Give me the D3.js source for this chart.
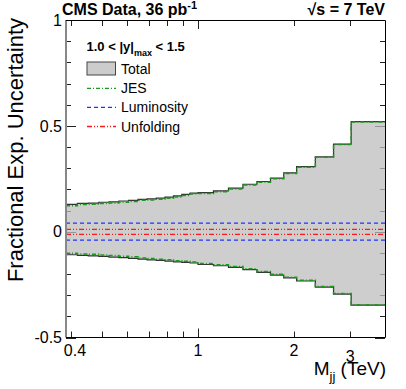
<!DOCTYPE html>
<html>
<head>
<meta charset="utf-8">
<script src="https://cdn.jsdelivr.net/npm/d3@7"></script>
<style>
body { margin: 0; background: #fff; }
text { font-family: "Liberation Sans", Arial, Helvetica, sans-serif; fill: #000; }
</style>
</head>
<body>
<script>
// bin edges in TeV (CMS dijet mass binning, merged at high mass)
const binEdges = [0.386, 0.419, 0.453, 0.489, 0.526, 0.565, 0.606, 0.649, 0.693, 0.740, 0.788,
  0.838, 0.890, 0.944, 1.000, 1.118, 1.246, 1.383, 1.530, 1.687, 1.856, 2.037, 2.332, 2.659, 3.019, 3.854];

const totalUp = [0.129, 0.134, 0.135, 0.139, 0.141, 0.145, 0.148, 0.153, 0.155, 0.158, 0.163, 0.169,
  0.176, 0.182, 0.184, 0.193, 0.206, 0.224, 0.237, 0.253, 0.278, 0.307, 0.353, 0.414, 0.520];
const totalDown = [-0.109, -0.112, -0.114, -0.117, -0.120, -0.123, -0.126, -0.130, -0.133, -0.136,
  -0.139, -0.143, -0.145, -0.148, -0.155, -0.161, -0.169, -0.179, -0.192, -0.205, -0.218, -0.233,
  -0.262, -0.295, -0.347];

const jesUp = [0.123, 0.128, 0.129, 0.133, 0.135, 0.139, 0.143, 0.148, 0.150, 0.153, 0.158, 0.164,
  0.171, 0.178, 0.180, 0.189, 0.202, 0.220, 0.234, 0.250, 0.275, 0.304, 0.351, 0.412, 0.518];
const jesDown = [-0.102, -0.105, -0.107, -0.110, -0.113, -0.116, -0.119, -0.124, -0.127, -0.130,
  -0.133, -0.137, -0.140, -0.143, -0.150, -0.156, -0.164, -0.175, -0.188, -0.201, -0.215, -0.230,
  -0.259, -0.292, -0.345];

const lumi = [0.040, -0.040];
const unfolding = [0.011, -0.013];

const xLabels = [0.4, 1, 2, 3];
const xMinor = [0.5, 0.6, 0.7, 0.8, 0.9];
const yMajor = [-0.5, 0, 0.5, 1];
const yMinor = d3.range(-5, 11).map(d => d / 10);

const W = 406, H = 389;
const svg = d3.select("body").append("svg").attr("width", W).attr("height", H);

const x = d3.scaleLog().domain([0.386, 3.854]).range([66, 385]);
const y = d3.scaleLinear().domain([-0.5, 1]).range([337.5, 20]);
const L = 66, R = 385, T = 20, B = 337.5;

// ticks (drawn under the band, like in the original)
const tk = svg.append("g").attr("stroke", "#222").attr("stroke-width", 1);
yMinor.forEach(v => {
  const len = yMajor.some(m => Math.abs(m - v) < 1e-9) ? 10 : 5;
  const yy = Math.round(y(v)) + 0.5;
  tk.append("line").attr("x1", L).attr("x2", L + len).attr("y1", yy).attr("y2", yy);
  tk.append("line").attr("x1", R).attr("x2", R - len).attr("y1", yy).attr("y2", yy);
});
xLabels.concat(xMinor).forEach(v => {
  const len = (v === 1) ? 9 : 6;
  const xx = Math.round(x(v)) + 0.5;
  tk.append("line").attr("x1", xx).attr("x2", xx).attr("y1", B).attr("y2", B - len);
  tk.append("line").attr("x1", xx).attr("x2", xx).attr("y1", T).attr("y2", T + len);
});

// band data
const pts = binEdges.map((e, i) => {
  const j = Math.min(i, totalUp.length - 1);
  return { m: e, up: totalUp[j], dn: totalDown[j], jup: jesUp[j], jdn: jesDown[j] };
});

svg.append("path")
  .datum(pts)
  .attr("d", d3.area().curve(d3.curveStepAfter).x(d => x(d.m)).y0(d => y(d.dn)).y1(d => y(d.up)))
  .attr("fill", "#bdbdbd")
  .attr("fill-opacity", 0.75);

const step = key => d3.line().curve(d3.curveStepAfter).x(d => x(d.m)).y(d => y(d[key]));

["up", "dn"].forEach(k => {
  svg.append("path").datum(pts).attr("d", step(k))
    .attr("fill", "none").attr("stroke", "#333").attr("stroke-width", 1.2);
});
["jup", "jdn"].forEach(k => {
  svg.append("path").datum(pts).attr("d", step(k))
    .attr("fill", "none").attr("stroke", "#1a9a1a").attr("stroke-width", 1.5)
    .attr("stroke-dasharray", "4,2,1,2");
});

lumi.forEach(v => {
  svg.append("line").attr("x1", L).attr("x2", R).attr("y1", y(v)).attr("y2", y(v))
    .attr("stroke", "#2233ff").attr("stroke-width", 1.3).attr("stroke-dasharray", "4,3");
});
unfolding.forEach(v => {
  svg.append("line").attr("x1", L).attr("x2", R).attr("y1", y(v)).attr("y2", y(v))
    .attr("stroke", "#ff1a1a").attr("stroke-width", 1.3).attr("stroke-dasharray", "5,2,1,2,1,2");
});

// frame
svg.append("line").attr("x1", L).attr("x2", L).attr("y1", T).attr("y2", B)
  .attr("stroke", "#888").attr("stroke-width", 2);
svg.append("path")
  .attr("d", `M${L},${T + 0.5}H${R + 0.5}V${B}H${L}`)
  .attr("fill", "none").attr("stroke", "#000").attr("stroke-width", 1);

// tick labels
svg.selectAll(".yl").data(yMajor).enter().append("text")
  .attr("x", 62).attr("y", d => y(d)).attr("dy", "0.36em")
  .attr("text-anchor", "end").attr("font-size", 16)
  .text(d => d);
svg.selectAll(".xl").data(xLabels).enter().append("text")
  .attr("x", d => d === 0.4 ? x(d) + 4 : x(d))
  .attr("y", d => d === 3 ? 362 : 356)
  .attr("text-anchor", "middle").attr("font-size", 16)
  .text(d => d);

// axis titles
const xt = svg.append("text").attr("x", 386).attr("y", 375).attr("text-anchor", "end").attr("font-size", 19);
xt.append("tspan").text("M");
xt.append("tspan").attr("dy", 6).attr("font-size", 13).text("jj");
xt.append("tspan").attr("dy", -6).text(" (TeV)");

svg.append("text")
  .attr("transform", "translate(23,18) rotate(-90)")
  .attr("text-anchor", "end").attr("font-size", 22)
  .text("Fractional Exp. Uncertainty");

// header
const h1 = svg.append("text").attr("x", 62).attr("y", 15).attr("font-size", 16).attr("font-weight", "bold");
h1.append("tspan").text("CMS Data, 36 pb");
h1.append("tspan").attr("dy", -6).attr("font-size", 11).text("-1");
svg.append("text").attr("x", 385).attr("y", 15).attr("text-anchor", "end")
  .attr("font-size", 16).attr("font-weight", "bold").text("\u221As = 7 TeV");

// legend
const lg = svg.append("g");
const lt = lg.append("text").attr("x", 86.5).attr("y", 51).attr("font-size", 13).attr("font-weight", "bold");
lt.append("tspan").text("1.0 < |y|");
lt.append("tspan").attr("dy", 5).attr("font-size", 9).text("max");
lt.append("tspan").attr("dy", -5).text(" < 1.5");

lg.append("rect").attr("x", 87).attr("y", 62).attr("width", 28.5).attr("height", 13)
  .attr("fill", "#cccccc").attr("stroke", "#444").attr("stroke-width", 1);
const items = [
  { name: "Total", y: 68.5 },
  { name: "JES", y: 88.3, color: "#1a9a1a", dash: "4,2,1,2" },
  { name: "Luminosity", y: 107.3, color: "#2233ff", dash: "4,3" },
  { name: "Unfolding", y: 126.5, color: "#ff1a1a", dash: "5,2,1,2,1,2" }
];
items.forEach(it => {
  if (it.color) {
    lg.append("line").attr("x1", 87).attr("x2", 116).attr("y1", it.y).attr("y2", it.y)
      .attr("stroke", it.color).attr("stroke-width", 1.3).attr("stroke-dasharray", it.dash);
  }
  lg.append("text").attr("x", 121).attr("y", it.y).attr("dy", "0.36em")
    .attr("font-size", 14).text(it.name);
});
</script>
</body>
</html>
